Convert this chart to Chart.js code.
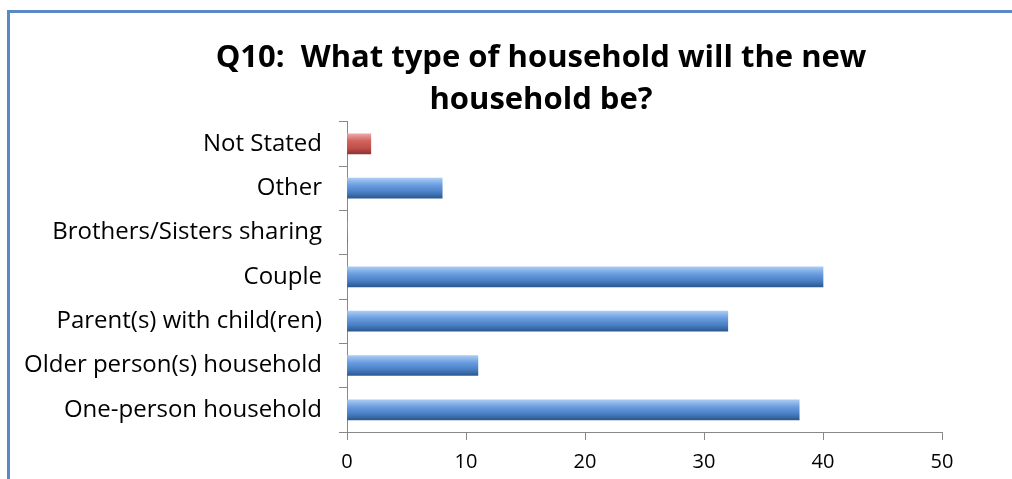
<!DOCTYPE html>
<html>
<head>
<meta charset="utf-8">
<script src="https://cdn.jsdelivr.net/npm/chart.js@4"></script>
<style>
  html, body { margin: 0; background: #fff; overflow: hidden; }
  #wrap { position: absolute; left: 0; top: 0; width: 1012px; height: 479px; overflow: hidden; }
  #frame { position: absolute; left: 7px; top: 10px; right: -10px; bottom: -10px;
           border-left: 3px solid #5b89c6; border-top: 3px solid #5b89c6; }
  canvas { position: absolute; left: 0; top: 0; }
</style>
</head>
<body>
<div id="wrap">
  <div id="frame"></div>
  <canvas id="myChart" width="1012" height="479"></canvas>
</div>
<script>
// data
const categories = ["Not Stated", "Other", "Brothers/Sisters sharing", "Couple",
  "Parent(s) with child(ren)", "Older person(s) household", "One-person household"];
const counts = [2, 8, 0, 40, 32, 11, 38];
const xTicks = [0, 10, 20, 30, 40, 50];

const FONT = "'Open Sans', 'Liberation Sans', sans-serif";
const BAR_H = 20;

function barFill(c) {
  const chart = c.chart;
  const y = chart.scales.y;
  const red = categories[c.dataIndex] == "Not Stated";
  if (!y || y.top == null) return red ? '#c0504d' : '#4f81bd';
  const mid = y.getPixelForValue(c.dataIndex);
  const g = chart.ctx.createLinearGradient(0, mid - BAR_H / 2, 0, mid + BAR_H / 2);
  if (red) {
    g.addColorStop(0, '#eaa7a5');
    g.addColorStop(0.35, '#d4625f');
    g.addColorStop(0.7, '#c0504d');
    g.addColorStop(1, '#8e3533');
  } else {
    g.addColorStop(0, '#a9cbf3');
    g.addColorStop(0.35, '#6a9de0');
    g.addColorStop(0.7, '#4a7fc4');
    g.addColorStop(1, '#2b5890');
  }
  return g;
}

// the title in the original sits right of the canvas centre
const shiftTitle = {
  id: 'shiftTitle',
  afterLayout(chart) {
    const t = chart.titleBlock;
    if (t) { t.left += 65; t.right += 65; }
  }
};

var ctx = document.getElementById('myChart').getContext('2d');

grafico = new Chart(ctx, {
  type: 'bar',
  data: {
    labels: categories,
    datasets: [{
      data: counts,
      backgroundColor: barFill,
      borderWidth: 0,
      barThickness: BAR_H
    }]
  },
  options: {
    indexAxis: 'y',
    responsive: false,
    animation: false,
    layout: { padding: { left: 10, right: 70, top: 37, bottom: 0 } },
    plugins: {
      legend: { display: false },
      tooltip: { enabled: false },
      title: {
        display: true,
        text: ["Q10:  What type of household will the new", "household be?"],
        color: '#000',
        font: { family: FONT, size: 31, weight: 'bold', lineHeight: 1.35 },
        padding: { top: 0, bottom: 1 }
      }
    },
    scales: {
      x: {
        min: 0,
        max: 50,
        afterBuildTicks: s => { s.ticks = xTicks.map(v => ({ value: v })); },
        afterFit: s => { s.height = 47; },
        border: { color: '#888', width: 1 },
        grid: { drawOnChartArea: false, drawTicks: true, tickLength: 8, color: '#888' },
        ticks: { color: '#000', font: { family: FONT, size: 20 }, padding: 10, maxRotation: 0 }
      },
      y: {
        afterFit: s => { s.width = 337; },
        border: { color: '#888', width: 1 },
        grid: { offset: true, drawOnChartArea: false, drawTicks: true, tickLength: 8, color: '#888' },
        ticks: { color: '#000', font: { family: FONT, size: 24 }, padding: 17 }
      }
    }
  },
  plugins: [shiftTitle]
});
</script>
</body>
</html>
